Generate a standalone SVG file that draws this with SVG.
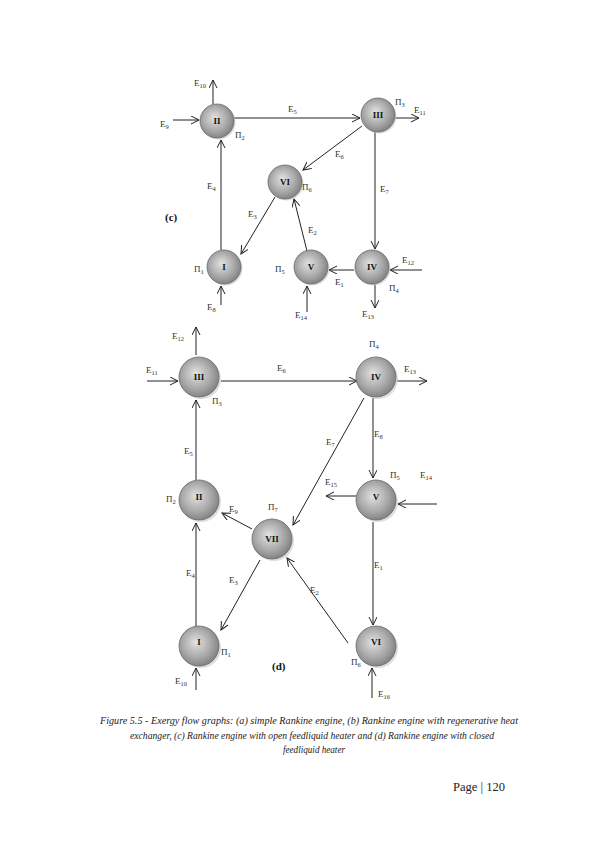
<svg xmlns="http://www.w3.org/2000/svg" width="595" height="842" viewBox="0 0 595 842">
<defs>
<radialGradient id="ng" cx="0.45" cy="0.45" r="0.6" fx="0.42" fy="0.4">
<stop offset="0" stop-color="#e2e2e2"/>
<stop offset="0.6" stop-color="#a9a9a9"/>
<stop offset="1" stop-color="#7c7c7c"/>
</radialGradient>
<marker id="ah" markerWidth="10" markerHeight="10" refX="8" refY="4" orient="auto" markerUnits="userSpaceOnUse">
<path d="M0,0 L8,4 L0,8" fill="none" stroke="#222" stroke-width="1"/>
</marker>
</defs>
<style>
.e{stroke:#222;stroke-width:1;fill:none;marker-end:url(#ah)}
.l{font-family:"Liberation Serif",serif;font-size:9px;fill:#333}
.s{font-size:6.5px}
.n{font-family:"Liberation Serif",serif;font-size:9px;font-weight:bold;fill:#111;text-anchor:middle}
.c{fill:url(#ng);stroke:#6a6a6a;stroke-width:0.8}
.sh{fill:#c8c8c8;opacity:0.6}
.p{font-family:"Liberation Serif",serif;font-weight:bold;font-size:11px;fill:#111}
.cap{font-family:"Liberation Serif",serif;font-style:italic;font-weight:normal;font-size:10px;fill:#222;text-anchor:middle}
</style>
<rect width="595" height="842" fill="#fff"/>

<g id="connectors">
<line class="e" x1="213" y1="104" x2="213" y2="80"/>
<line class="e" x1="173" y1="120" x2="199" y2="120"/>
<line class="e" x1="234" y1="118" x2="360" y2="118"/>
<line class="e" x1="395" y1="118" x2="419" y2="118"/>
<line class="e" x1="362" y1="126" x2="303" y2="170"/>
<line class="e" x1="375" y1="132" x2="375" y2="249"/>
<line class="e" x1="221" y1="250" x2="221" y2="140"/>
<line class="e" x1="275" y1="197" x2="241" y2="254"/>
<line class="e" x1="307" y1="251" x2="294" y2="199"/>
<line class="e" x1="354" y1="270" x2="329" y2="270"/>
<line class="e" x1="422" y1="270" x2="390" y2="270"/>
<line class="e" x1="375" y1="284" x2="375" y2="308"/>
<line class="e" x1="307" y1="312" x2="307" y2="286"/>
<line class="e" x1="221" y1="305" x2="221" y2="286"/>
<line class="e" x1="196" y1="355" x2="196" y2="327"/>
<line class="e" x1="147" y1="381" x2="178" y2="381"/>
<line class="e" x1="221" y1="381" x2="357" y2="381"/>
<line class="e" x1="397" y1="381" x2="427" y2="381"/>
<line class="e" x1="196" y1="480" x2="196" y2="400"/>
<line class="e" x1="364" y1="398" x2="293" y2="525"/>
<line class="e" x1="373" y1="398" x2="373" y2="478"/>
<line class="e" x1="437" y1="504" x2="398" y2="504"/>
<line class="e" x1="356" y1="496" x2="326" y2="496"/>
<line class="e" x1="373" y1="522" x2="373" y2="625"/>
<line class="e" x1="252" y1="529" x2="222" y2="513"/>
<line class="e" x1="196" y1="627" x2="196" y2="523"/>
<line class="e" x1="260" y1="560" x2="221" y2="630"/>
<line class="e" x1="348" y1="643" x2="287" y2="558"/>
<line class="e" x1="196" y1="690" x2="196" y2="668"/>
<line class="e" x1="372" y1="698" x2="372" y2="668"/>
</g>

<g id="c-II"><circle class="sh" cx="218.5" cy="122.5" r="17"/><circle class="c" cx="217" cy="121" r="17"/><text class="n" x="217" y="124">II</text></g>
<g id="c-III"><circle class="sh" cx="379.5" cy="116.5" r="17"/><circle class="c" cx="378" cy="115" r="17"/><text class="n" x="378" y="118">III</text></g>
<g id="c-VI"><circle class="sh" cx="286.5" cy="183.5" r="17"/><circle class="c" cx="285" cy="182" r="17"/><text class="n" x="285" y="185">VI</text></g>
<g id="c-I"><circle class="sh" cx="225.5" cy="268.5" r="17"/><circle class="c" cx="224" cy="267" r="17"/><text class="n" x="224" y="270">I</text></g>
<g id="c-V"><circle class="sh" cx="312.5" cy="268.5" r="17"/><circle class="c" cx="311" cy="267" r="17"/><text class="n" x="311" y="270">V</text></g>
<g id="c-IV"><circle class="sh" cx="373.5" cy="268.5" r="17"/><circle class="c" cx="372" cy="267" r="17"/><text class="n" x="372" y="270">IV</text></g>

<g id="d-III"><circle class="sh" cx="201" cy="379" r="20"/><circle class="c" cx="199" cy="377" r="20"/><text class="n" x="199" y="380">III</text></g>
<g id="d-IV"><circle class="sh" cx="378" cy="379" r="20"/><circle class="c" cx="376" cy="377" r="20"/><text class="n" x="376" y="380">IV</text></g>
<g id="d-II"><circle class="sh" cx="201" cy="502" r="20"/><circle class="c" cx="199" cy="500" r="20"/><text class="n" x="199" y="500">II</text></g>
<g id="d-V"><circle class="sh" cx="378" cy="502" r="20"/><circle class="c" cx="376" cy="500" r="20"/><text class="n" x="376" y="500">V</text></g>
<g id="d-VII"><circle class="sh" cx="274" cy="541" r="20"/><circle class="c" cx="272" cy="539" r="20"/><text class="n" x="272" y="542">VII</text></g>
<g id="d-I"><circle class="sh" cx="201" cy="648" r="20"/><circle class="c" cx="199" cy="646" r="20"/><text class="n" x="199" y="645">I</text></g>
<g id="d-VI"><circle class="sh" cx="378" cy="648" r="20"/><circle class="c" cx="376" cy="646" r="20"/><text class="n" x="376" y="645">VI</text></g>

<g id="labels-c">
<text class="l" x="194" y="86">E<tspan class="s" dy="1.5">10</tspan></text>
<text class="l" x="160" y="127">E<tspan class="s" dy="1.5">9</tspan></text>
<text class="l" x="288" y="112">E<tspan class="s" dy="1.5">5</tspan></text>
<text class="l" x="235" y="138">Π<tspan class="s" dy="1.5">2</tspan></text>
<text class="l" x="395" y="105">Π<tspan class="s" dy="1.5">3</tspan></text>
<text class="l" x="414" y="113">E<tspan class="s" dy="1.5">11</tspan></text>
<text class="l" x="335" y="157">E<tspan class="s" dy="1.5">6</tspan></text>
<text class="l" x="380" y="192">E<tspan class="s" dy="1.5">7</tspan></text>
<text class="l" x="302" y="190">Π<tspan class="s" dy="1.5">6</tspan></text>
<text class="l" x="207" y="189">E<tspan class="s" dy="1.5">4</tspan></text>
<text class="p" x="165" y="221">(c)</text>
<text class="l" x="248" y="217">E<tspan class="s" dy="1.5">3</tspan></text>
<text class="l" x="308" y="233">E<tspan class="s" dy="1.5">2</tspan></text>
<text class="l" x="194" y="272">Π<tspan class="s" dy="1.5">1</tspan></text>
<text class="l" x="275" y="272">Π<tspan class="s" dy="1.5">5</tspan></text>
<text class="l" x="335" y="285">E<tspan class="s" dy="1.5">1</tspan></text>
<text class="l" x="402" y="263">E<tspan class="s" dy="1.5">12</tspan></text>
<text class="l" x="389" y="291">Π<tspan class="s" dy="1.5">4</tspan></text>
<text class="l" x="362" y="317">E<tspan class="s" dy="1.5">13</tspan></text>
<text class="l" x="295" y="318">E<tspan class="s" dy="1.5">14</tspan></text>
<text class="l" x="207" y="310">E<tspan class="s" dy="1.5">8</tspan></text>
</g>

<g id="labels-d">
<text class="l" x="172" y="339">E<tspan class="s" dy="1.5">12</tspan></text>
<text class="l" x="146" y="373">E<tspan class="s" dy="1.5">11</tspan></text>
<text class="l" x="277" y="371">E<tspan class="s" dy="1.5">6</tspan></text>
<text class="l" x="212" y="404">Π<tspan class="s" dy="1.5">3</tspan></text>
<text class="l" x="369" y="347">Π<tspan class="s" dy="1.5">4</tspan></text>
<text class="l" x="404" y="372">E<tspan class="s" dy="1.5">13</tspan></text>
<text class="l" x="326" y="445">E<tspan class="s" dy="1.5">7</tspan></text>
<text class="l" x="374" y="437">E<tspan class="s" dy="1.5">8</tspan></text>
<text class="l" x="184" y="454">E<tspan class="s" dy="1.5">5</tspan></text>
<text class="l" x="166" y="502">Π<tspan class="s" dy="1.5">2</tspan></text>
<text class="l" x="229" y="512">E<tspan class="s" dy="1.5">9</tspan></text>
<text class="l" x="268" y="510">Π<tspan class="s" dy="1.5">7</tspan></text>
<text class="l" x="186" y="576">E<tspan class="s" dy="1.5">4</tspan></text>
<text class="l" x="229" y="583">E<tspan class="s" dy="1.5">3</tspan></text>
<text class="l" x="390" y="478">Π<tspan class="s" dy="1.5">5</tspan></text>
<text class="l" x="420" y="478">E<tspan class="s" dy="1.5">14</tspan></text>
<text class="l" x="325" y="485">E<tspan class="s" dy="1.5">15</tspan></text>
<text class="l" x="374" y="568">E<tspan class="s" dy="1.5">1</tspan></text>
<text class="l" x="310" y="593">E<tspan class="s" dy="1.5">2</tspan></text>
<text class="l" x="221" y="655">Π<tspan class="s" dy="1.5">1</tspan></text>
<text class="p" x="272" y="670">(d)</text>
<text class="l" x="175" y="684">E<tspan class="s" dy="1.5">10</tspan></text>
<text class="l" x="351" y="665">Π<tspan class="s" dy="1.5">6</tspan></text>
<text class="l" x="378" y="697">E<tspan class="s" dy="1.5">16</tspan></text>
</g>

<g id="caption">
<text class="cap" x="309" y="724" textLength="418" lengthAdjust="spacingAndGlyphs">Figure 5.5 - Exergy flow graphs: (a) simple Rankine engine, (b) Rankine engine with regenerative heat</text>
<text class="cap" x="312" y="739" textLength="364" lengthAdjust="spacingAndGlyphs">exchanger, (c) Rankine engine with open feedliquid heater and (d) Rankine engine with closed</text>
<text class="cap" x="314" y="753" textLength="62" lengthAdjust="spacingAndGlyphs">feedliquid heater</text>
<text x="453" y="791" font-family="Liberation Serif, serif" font-weight="normal" font-size="12" fill="#222" textLength="52" lengthAdjust="spacingAndGlyphs">Page | 120</text>
</g>
</svg>
